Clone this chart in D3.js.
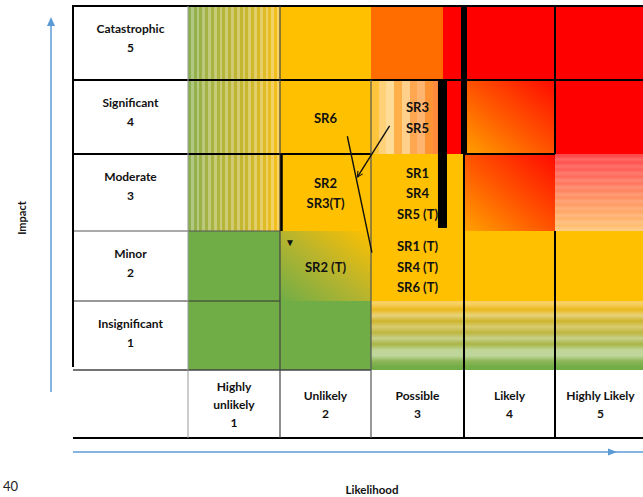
<!DOCTYPE html>
<html>
<head>
<meta charset="utf-8">
<script src="https://cdn.jsdelivr.net/npm/d3@7"></script>
<style>
  html, body { margin: 0; padding: 0; background: #fff; }
  svg { display: block; font-family: Lato, "Open Sans", sans-serif; }
</style>
</head>
<body>
<svg id="chart" width="643" height="497"></svg>
<script>
// ---- risk matrix data ----
const likelihoodScores = [1, 2, 3, 4, 5];
const likelihoodNames = [["Highly", "unlikely"], ["Unlikely"], ["Possible"], ["Likely"], ["Highly Likely"]];
const impactScores = [1, 2, 3, 4, 5];
const impactNames = ["Insignificant", "Minor", "Moderate", "Significant", "Catastrophic"];

// rating fill of each cell, one row per impact score (1 → 5), columns by likelihood (1 → 5)
const impact1Fills = ["green", "green", "amberGreenBands", "amberGreenBands", "amberGreenBands"];
const impact2Fills = ["green", "greenAmber", "amber", "amber", "amber"];
const impact3Fills = ["greenAmberStripes", "amber", "amber", "orangeRed", "redPeachBands"];
const impact4Fills = ["greenAmberStripes", "amber", "peachStripes", "orangeRed", "red"];
const impact5Fills = ["greenAmberStripes", "amber", "orange", "red", "red"];
const cellFills = [impact1Fills, impact2Fills, impact3Fills, impact4Fills, impact5Fills];

// risks placed in the matrix (current and target positions)
const risks = [
  { likelihood: 2, impact: 4, ids: ["SR6"] },
  { likelihood: 3, impact: 4, ids: ["SR3", "SR5"] },
  { likelihood: 2, impact: 3, ids: ["SR2", "SR3(T)"] },
  { likelihood: 3, impact: 3, ids: ["SR1", "SR4", "SR5 (T)"] },
  { likelihood: 2, impact: 2, ids: ["SR2 (T)"] },
  { likelihood: 3, impact: 2, ids: ["SR1 (T)", "SR4 (T)", "SR6 (T)"] }
];

// movement lines between positions, in likelihood/impact units
const movements = [
  { from: [2.24, 3.74], to: [2.51, 2.19], arrow: false },
  { from: [2.70, 3.88], to: [2.35, 3.20], arrow: true }
];

// heavy black markers drawn over the Possible column
const markers = [
  { l0: 3.22, l1: 3.317, i0: 2.54, i1: 4.5 },
  { l0: 3.468, l1: 3.533, i0: 3.5, i1: 5.5 }
];

// ---- layout ----
const svg = d3.select("#chart");
const labelLeft = 73, tableRight = 643, labelRowBottom = 438;
const x = d3.scaleLinear().domain([0.5, 1.5, 2.5, 3.5, 4.5, 5.5]).range([188, 280, 371, 464, 555, 646]);
const y = d3.scaleLinear().domain([0.5, 1.5, 2.5, 3.5, 4.5, 5.5]).range([370, 301, 231, 154, 80, 6]);

// ---- fills ----
const defs = svg.append("defs");
const solid = { green: "#70AD47", amber: "#FFC000", orange: "#FF6D00", red: "#FF0000" };

function bands(id, colors, vertical, hard) {
  const g = defs.append("linearGradient").attr("id", id)
    .attr("x1", 0).attr("y1", 0).attr("x2", vertical ? 1 : 0).attr("y2", vertical ? 0 : 1);
  const n = colors.length;
  colors.forEach((c, i) => {
    if (hard) {
      g.append("stop").attr("offset", i / n).attr("stop-color", c);
      g.append("stop").attr("offset", (i + 1) / n).attr("stop-color", c);
    } else {
      g.append("stop").attr("offset", (i + 0.5) / n).attr("stop-color", c);
    }
  });
}
function striped(interp, n, light) {
  return d3.range(n).map(i => {
    const c = interp(i / (n - 1));
    return i % 2 ? d3.interpolateRgb(c, "#fff")(light) : c;
  });
}
bands("greenAmberStripes",
  striped(d3.interpolateRgbBasis(["#8CB04E", "#B4B53C", "#C6B52C", "#F6C11E"]), 32, 0.3), true, true);
bands("peachStripes",
  ["#FFC53C", "#FFD27A", "#FFDC98", "#FFB048", "#FFD08C", "#FFA650", "#FFB470", "#FF9434",
   "#FF8A3E", "#FFA070", "#FF6E34", "#FF8660"], true, true);
bands("redPeachBands",
  striped(d3.interpolateRgbBasis(["#FF4848", "#FF7060", "#FF9C60", "#FFC272"]), 22, 0.15), false, false);
bands("amberGreenBands",
  ["#F8D060", "#E9B920", "#E8D27A", "#CDB52E", "#D8CC70", "#BDB640", "#C8D08A", "#A9B545",
   "#BED596", "#C0D79C", "#8CB556", "#70AD47"], false, false);

const diag = (id, stops) => {
  const g = defs.append("linearGradient").attr("id", id)
    .attr("x1", 0).attr("y1", 1).attr("x2", 1).attr("y2", 0);
  stops.forEach(([o, c]) => g.append("stop").attr("offset", o).attr("stop-color", c));
};
diag("orangeRed", [[0, "#FFA200"], [0.45, "#FF5A00"], [1, "#FF0A00"]]);
diag("greenAmber", [[0, "#70AD47"], [0.5, "#B7B42E"], [1, "#FFC000"]]);

const fillOf = k => solid[k] || `url(#${k})`;

// ---- cells ----
const cells = [];
impactScores.forEach((imp, r) => likelihoodScores.forEach((lik, c) =>
  cells.push({ impact: imp, likelihood: lik, fill: cellFills[r][c] })));

svg.append("g").selectAll("rect").data(cells).join("rect")
  .attr("x", d => x(d.likelihood - 0.5))
  .attr("y", d => y(d.impact + 0.5))
  .attr("width", d => x(d.likelihood + 0.5) - x(d.likelihood - 0.5))
  .attr("height", d => y(d.impact - 0.5) - y(d.impact + 0.5))
  .attr("fill", d => fillOf(d.fill));

// red overflow beside the Possible column, top two rows
svg.append("rect")
  .attr("x", x(3.274)).attr("y", y(5.5))
  .attr("width", x(3.5) - x(3.274)).attr("height", y(3.5) - y(5.5))
  .attr("fill", solid.red);

// ---- table borders ----
const grid = svg.append("g").attr("fill", "none");
function hLine(v, x0, x1, color, w) {
  grid.append("line").attr("x1", x0).attr("x2", x1).attr("y1", y(v)).attr("y2", y(v))
    .attr("stroke", color).attr("stroke-width", w);
}
function vLine(xp, y0, y1, color, w) {
  grid.append("line").attr("x1", xp).attr("x2", xp).attr("y1", y0).attr("y2", y1)
    .attr("stroke", color).attr("stroke-width", w);
}
hLine(5.5, labelLeft, tableRight, "#000", 2);
hLine(4.5, labelLeft, tableRight, "#000", 2);
hLine(3.5, labelLeft, x(2.5), "#000", 2);
hLine(3.5, x(3.5), x(4.5), "#000", 2);
hLine(2.5, labelLeft, x(1.5), "#555", 1);
hLine(1.5, labelLeft, x(1.5), "#333", 1);
hLine(0.5, labelLeft, x(2.5), "#444", 1.5);
grid.append("line").attr("x1", labelLeft).attr("x2", tableRight)
  .attr("y1", labelRowBottom).attr("y2", labelRowBottom).attr("stroke", "#000").attr("stroke-width", 2);
vLine(labelLeft, y(5.5) - 1, y(0.5) - 3, "#000", 2);
vLine(x(0.5), y(5.5), labelRowBottom, "#999", 1);
vLine(x(1.5), y(5.5), labelRowBottom, "#444", 1.2);
vLine(x(1.5) + 1.5, y(3.5), y(2.5), "#000", 2.5);
vLine(x(2.5), y(4.5), labelRowBottom, "#555", 1.2);
vLine(x(3.5), y(3.5), labelRowBottom, "#000", 2);
vLine(x(4.5), y(5.5), y(3.5), "#000", 2);
vLine(x(4.5), y(2.5), labelRowBottom, "#000", 2);

// ---- impact labels ----
const rowLabels = svg.append("g").attr("font-weight", 700).attr("font-size", 12)
  .attr("text-anchor", "middle").attr("fill", "#111");
impactScores.forEach((imp, i) => {
  const top = y(imp + 0.5);
  const cx = (labelLeft + x(0.5)) / 2;
  rowLabels.append("text").attr("x", cx).attr("y", top + 23).attr("dy", "0.35em").text(impactNames[i]);
  rowLabels.append("text").attr("x", cx).attr("y", top + 42).attr("dy", "0.35em").text(imp);
});

// ---- likelihood labels ----
const colLabels = svg.append("g").attr("font-weight", 700).attr("font-size", 12)
  .attr("text-anchor", "middle").attr("fill", "#111");
likelihoodScores.forEach((lik, i) => {
  const lines = likelihoodNames[i].concat([String(lik)]);
  const mid = (y(0.5) + labelRowBottom) / 2 + 1;
  lines.forEach((t, k) => {
    colLabels.append("text").attr("x", x(lik)).attr("y", mid + (k - (lines.length - 1) / 2) * 18)
      .attr("dy", "0.35em").text(t);
  });
});

// ---- risk labels ----
const riskG = svg.append("g").attr("font-weight", 700).attr("font-size", 13)
  .attr("text-anchor", "middle").attr("fill", "#111");
risks.forEach(r => {
  const cy = y(r.impact) + 1;
  r.ids.forEach((t, k) => {
    riskG.append("text").attr("x", x(r.likelihood)).attr("y", cy + (k - (r.ids.length - 1) / 2) * 20.5)
      .attr("dy", "0.35em").text(t);
  });
});

// ---- movement lines ----
defs.append("marker").attr("id", "head").attr("viewBox", "0 0 10 10")
  .attr("refX", 9).attr("refY", 5).attr("markerWidth", 7).attr("markerHeight", 7)
  .attr("orient", "auto-start-reverse").attr("markerUnits", "userSpaceOnUse")
  .append("path").attr("d", "M1,1 L9,5 L1,9").attr("fill", "none").attr("stroke", "#111").attr("stroke-width", 1.5);
svg.append("g").selectAll("line").data(movements).join("line")
  .attr("x1", d => x(d.from[0])).attr("y1", d => y(d.from[1]))
  .attr("x2", d => x(d.to[0])).attr("y2", d => y(d.to[1]))
  .attr("stroke", "#111").attr("stroke-width", 1.4)
  .attr("marker-end", d => d.arrow ? "url(#head)" : null);

// ---- heavy markers ----
svg.append("g").selectAll("rect").data(markers).join("rect")
  .attr("x", d => x(d.l0)).attr("y", d => y(d.i1))
  .attr("width", d => x(d.l1) - x(d.l0)).attr("height", d => y(d.i0) - y(d.i1))
  .attr("fill", "#000");

svg.append("text").attr("x", x(1.5) + 10).attr("y", y(2.5) + 11).attr("dy", "0.35em")
  .attr("text-anchor", "middle").attr("font-size", 10).attr("fill", "#111").text("▼");

// ---- axis arrows and titles ----
const blue = "#5B9BD5";
const axes = svg.append("g");
axes.append("line").attr("x1", 51).attr("x2", 51).attr("y1", 392).attr("y2", 24)
  .attr("stroke", blue).attr("stroke-width", 1.5);
axes.append("path").attr("d", "M51,17 L55,26 L47,26 Z").attr("fill", blue);
axes.append("line").attr("x1", labelLeft).attr("x2", tableRight).attr("y1", 452).attr("y2", 452)
  .attr("stroke", blue).attr("stroke-width", 1.5);
axes.append("path").attr("d", "M617,452 L608,448.5 L608,455.5 Z").attr("fill", blue);

svg.append("text").attr("transform", "translate(22,218) rotate(-90)").attr("dy", "0.35em")
  .attr("text-anchor", "middle").attr("font-weight", 700).attr("font-size", 11).attr("fill", "#111")
  .text("Impact");
svg.append("text").attr("x", 372).attr("y", 490).attr("dy", "0.35em")
  .attr("text-anchor", "middle").attr("font-weight", 700).attr("font-size", 11.5).attr("fill", "#111")
  .text("Likelihood");
svg.append("text").attr("x", 3).attr("y", 491).attr("font-size", 13).attr("fill", "#222").text("40");
</script>
</body>
</html>
